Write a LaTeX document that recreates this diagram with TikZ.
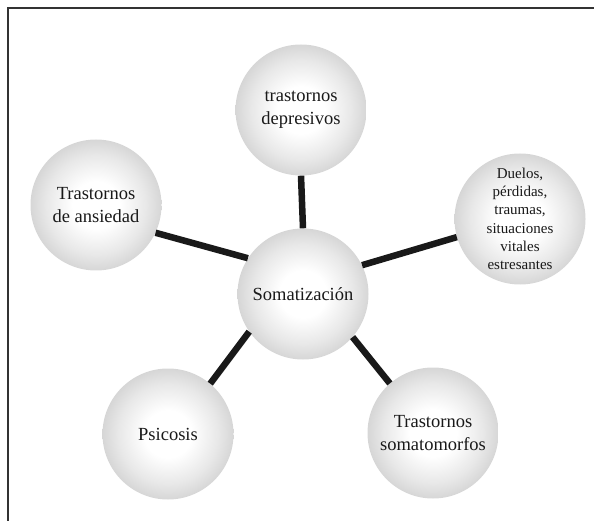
\documentclass[tikz,border=0pt]{standalone}
\usepackage{fontspec}
\setmainfont{Liberation Serif}
% soft sphere-like fill: white core fading to light grey at the rim
\pgfdeclareradialshading{bubbleshade}{\pgfpoint{0bp}{0bp}}{%
  color(0bp)=(white); color(9bp)=(white); color(19bp)=(black!9);
  color(25bp)=(black!16); color(50bp)=(black!16)}
\begin{document}
\begin{tikzpicture}[x=1pt,y=-1pt,
  bubble/.style={circle, minimum size=131pt, inner sep=0pt, shading=bubbleshade,
    align=center, font=\fontsize{18.5}{22.5}\selectfont, text=black!90},
  smalltext/.style={font=\fontsize{15}{18.3}\selectfont},
  link/.style={line width=6.5pt, draw=black!90}]
\useasboundingbox (0,0) rectangle (594,521);
% frame along the top and left edges
\draw[line width=2pt, black!80] (7.5,521) -- (7.5,8.5) -- (594,8.5);
% nodes
\node[bubble] (dep) at (301,110) {trastornos\\depresivos};
\node[bubble] (ans) at (96,205) {Trastornos\\de ansiedad};
\node[bubble, smalltext] (due) at (520,219) {Duelos,\\pérdidas,\\traumas,\\situaciones\\vitales\\estresantes};
\node[bubble] (som) at (303,294) {Somatización};
\node[bubble] (psi) at (168,434) {Psicosis};
\node[bubble] (tso) at (433,433) {Trastornos\\somatomorfos};
% connectors
\draw[link] (dep.-90) -- (som.90);
\draw[link] (ans.-25) -- (som.147);
\draw[link] (som.26) -- (due.196);
\draw[link] (som.215) -- (psi.50);
\draw[link] (som.-41) -- (tso.131);
\end{tikzpicture}
\end{document}
